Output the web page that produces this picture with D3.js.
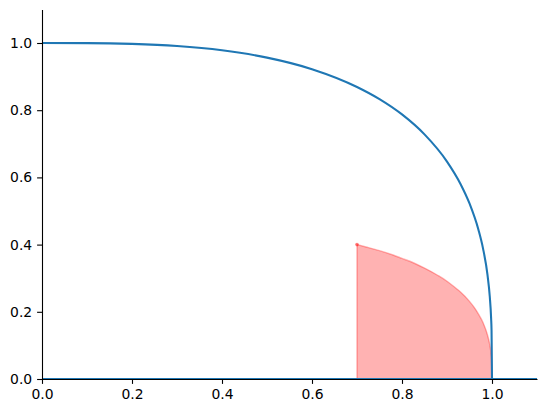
<!DOCTYPE html>
<html>
<head>
<meta charset="utf-8">
<script src="https://cdn.jsdelivr.net/npm/d3@7"></script>
<style>
  html, body { margin: 0; padding: 0; background: #fff; }
  svg { display: block; }
  text { font-family: "DejaVu Sans", sans-serif; }
</style>
</head>
<body>
<svg id="chart" width="547" height="413"></svg>
<script>
// ---- data ----
const curveX = [0, 0.1, 0.2, 0.3, 0.4, 0.5, 0.6, 0.7, 0.75, 0.8, 0.85, 0.9, 0.93, 0.95, 0.97, 0.98, 0.99, 0.995, 0.998, 0.999, 1.0];
const curveY = [1.0, 0.9997, 0.9973, 0.9909, 0.9782, 0.9565, 0.9221, 0.8692, 0.8330, 0.7874, 0.7280, 0.6471, 0.5805, 0.5224, 0.4436, 0.3889, 0.3097, 0.2462, 0.1816, 0.1442, 0.0];
const baseX = [0, 1.1];
const baseY = [0, 0];
const shadeX = [0.7, 0.72, 0.75, 0.78, 0.8, 0.82, 0.85, 0.88, 0.9, 0.92, 0.93, 0.95, 0.96, 0.97, 0.98, 0.99, 0.995, 0.998, 0.999, 1.0];
const shadeY = [0.400, 0.393, 0.382, 0.369, 0.359, 0.349, 0.330, 0.308, 0.291, 0.270, 0.259, 0.231, 0.214, 0.193, 0.168, 0.131, 0.102, 0.074, 0.057, 0.0];
const markX = [0.7];
const markY = [0.4];
const xTicks = [0.0, 0.2, 0.4, 0.6, 0.8, 1.0];
const yTicks = [0.0, 0.2, 0.4, 0.6, 0.8, 1.0];
const xDomain = [0, 1.1];
const yDomain = [0, 1.1];

// ---- drawing ----
const svg = d3.select("#chart");
const x = d3.scaleLinear().domain(xDomain).range([42, 537]);
const y = d3.scaleLinear().domain(yDomain).range([379, 9.4]);

const blue = "#1f77b4";

// shaded region
const shadePts = shadeX.map((v, i) => [v, shadeY[i]]);
const area = d3.area()
  .x(d => x(d[0]))
  .y0(y(0))
  .y1(d => y(d[1]))
  .curve(d3.curveMonotoneX);
svg.append("path")
  .datum(shadePts)
  .attr("d", area)
  .attr("fill", "red")
  .attr("fill-opacity", 0.3)
  .attr("stroke", "red")
  .attr("stroke-opacity", 0.3)
  .attr("stroke-width", 1.4);

// marker
svg.selectAll("circle.mark")
  .data(markX.map((v, i) => [v, markY[i]]))
  .join("circle")
  .attr("class", "mark")
  .attr("cx", d => x(d[0]))
  .attr("cy", d => y(d[1]))
  .attr("r", 1.8)
  .attr("fill", "red")
  .attr("fill-opacity", 0.5);

// curve
const line = d3.line()
  .x(d => x(d[0]))
  .y(d => y(d[1]))
  .curve(d3.curveMonotoneX);
svg.append("path")
  .datum(curveX.map((v, i) => [v, curveY[i]]))
  .attr("d", line)
  .attr("fill", "none")
  .attr("stroke", blue)
  .attr("stroke-width", 2.08)
  .attr("stroke-linejoin", "round");

// baseline
svg.append("path")
  .datum(baseX.map((v, i) => [v, baseY[i]]))
  .attr("d", d3.line().x(d => x(d[0])).y(d => y(d[1])))
  .attr("fill", "none")
  .attr("stroke", blue)
  .attr("stroke-width", 2.08);

// axes
const fmt = d3.format(".1f");
const xAxis = d3.axisBottom(x).tickValues(xTicks).tickFormat(fmt)
  .tickSizeInner(4.9).tickSizeOuter(0).tickPadding(4.9);
const yAxis = d3.axisLeft(y).tickValues(yTicks).tickFormat(fmt)
  .tickSizeInner(4.9).tickSizeOuter(0).tickPadding(4.9);

const gx = svg.append("g").attr("transform", `translate(0,${y(0)})`).call(xAxis);
const gy = svg.append("g").attr("transform", `translate(${x(0)},0)`).call(yAxis);
[gx, gy].forEach(g => {
  g.select(".domain").attr("stroke", "#000").attr("stroke-width", 1.1);
  g.selectAll(".tick line").attr("stroke", "#000").attr("stroke-width", 1.1);
  g.selectAll(".tick text")
    .attr("fill", "#000")
    .style("font-family", "'DejaVu Sans', sans-serif")
    .style("font-size", "13.9px");
});
</script>
</body>
</html>
